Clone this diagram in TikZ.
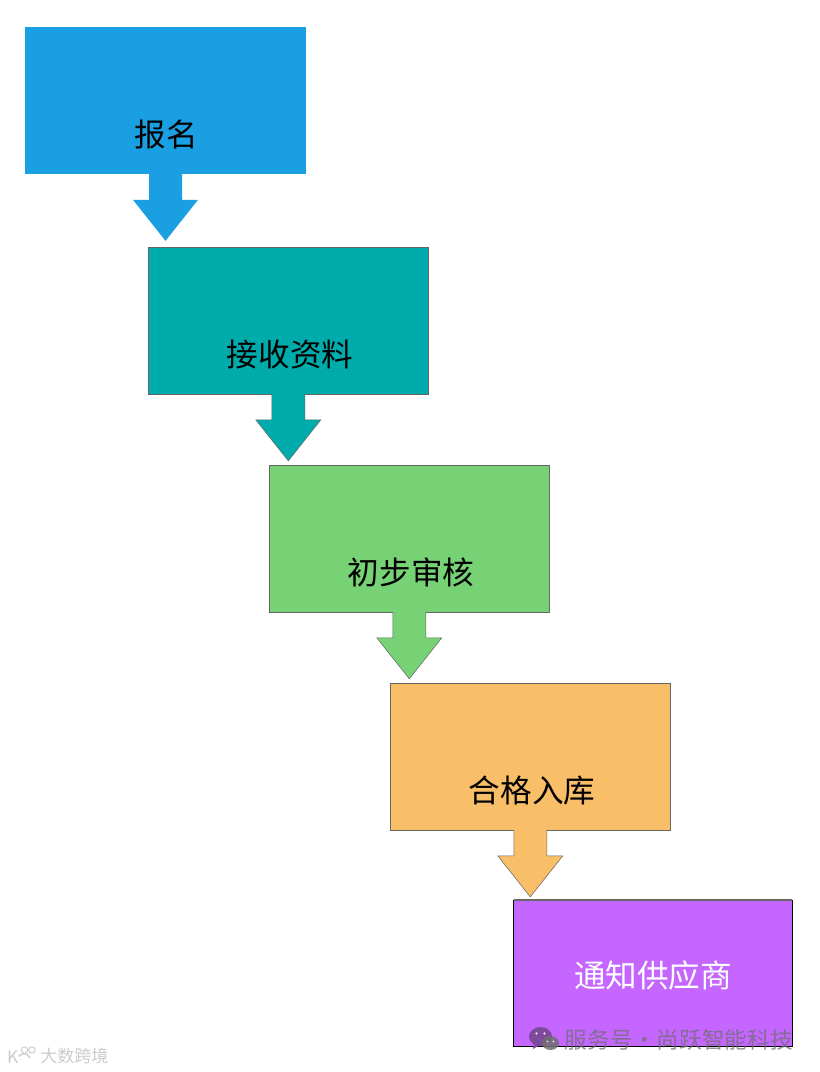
\documentclass[tikz,border=0pt]{standalone}
\usepackage{fontspec}
\setmainfont{Noto Sans CJK SC}
\usetikzlibrary{calc}
\definecolor{cblue}{HTML}{1B9FE3}
\definecolor{cteal}{HTML}{00ABAB}
\definecolor{cgreen}{HTML}{76D275}
\definecolor{corange}{HTML}{F9BE68}
\definecolor{cpurple}{HTML}{C466FF}
\definecolor{wmgray}{HTML}{6F6F6F}
\definecolor{wmpurple}{HTML}{7D4A9C}
\tikzset{
  x=0.75pt,y=-0.75pt,
  box/.style={draw=black!60,line width=0.4pt,minimum width=210.4pt,minimum height=110pt,inner sep=0pt,outer sep=0pt},
  lbl/.style={font=\fontsize{23.7}{26}\selectfont,text=black,inner sep=0pt},
  arrowline/.style={draw=black!60,line width=0.4pt,line join=miter}
}
% block arrow hanging from the bottom of a box: fill it, then stroke all sides but the top
\newcommand{\darrow}[3]{%
  \fill[#2] ($(#1.south)+(-16.5,0)$) -- ++(0,26) -- ++(-16,0) -- ($(#1.south)+(0,67)$) -- ++(32.5,-41) -- ++(-16,0) -- ($(#1.south)+(16.5,0)$) -- cycle;
  \path[#3] ($(#1.south)+(-16.5,0)$) -- ++(0,26) -- ++(-16,0) -- ($(#1.south)+(0,67)$) -- ++(32.5,-41) -- ++(-16,0) -- ($(#1.south)+(16.5,0)$);}
\begin{document}
\begin{tikzpicture}
\useasboundingbox (0,0) rectangle (819,1072);
\fill[white] (0,0) rectangle (819,1072);
\node[box,fill=cblue,draw=none] (b1) at (165.5,100.5) {};
\node[box,fill=cteal] (b2) at (288.3,320.5) {};
\node[box,fill=cgreen] (b3) at (409.3,538.5) {};
\node[box,fill=corange] (b4) at (530.3,756.5) {};
\node[draw=black,line width=0.8pt,fill=cpurple,minimum width=209.2pt,minimum height=109pt,inner sep=0pt,outer sep=0pt] (b5) at (653,973.5) {};
\draw[black!60,line width=1.2pt] ($(b5.north west)+(0,-0.6)$) -- ($(b5.north east)+(0,-0.6)$);
\darrow{b1}{cblue}{draw=none}
\darrow{b2}{cteal}{arrowline}
\darrow{b3}{cgreen}{arrowline}
\darrow{b4}{corange}{arrowline}
\node[lbl] (t1) at (166,134.5) {报名};
\node[lbl] (t2) at (290,354.5) {接收资料};
\node[lbl] (t3) at (411,572.5) {初步审核};
\node[lbl] (t4) at (532,790.5) {合格入库};
\node[lbl,text=white] (t5) at (653,975) {通知供应商};
% watermark, lower right
\node[font=\fontsize{17}{20}\selectfont,text=wmgray,text opacity=0.75,inner sep=0pt,anchor=east] (wm1) at (793,1040) {\spaceskip=0.5pt 服务号 · 尚跃智能科技};
\fill[wmpurple] (540.5,1036.5) ellipse (11.5 and 9.5);
\fill[wmpurple] (534,1043) -- (533,1049) -- (540,1045) -- cycle;
\fill[wmgray,opacity=0.85] (550.5,1043) ellipse (8.5 and 7);
\fill[white,opacity=0.7] (536.5,1033.5) circle (1.4) (544.5,1033.5) circle (1.4) (547.5,1041.5) circle (1.1) (553.5,1041.5) circle (1.1);
% watermark, lower left
\node[font=\fontsize{12.8}{14}\selectfont,text=black!20,inner sep=0pt,anchor=west] (wm2) at (40,1056) {大数跨境};
\node[font=\fontsize{13}{14}\selectfont,text=black!20,inner sep=0pt] (wm3) at (13.5,1057) {K};
\draw[black!20,line width=0.7pt] (24.5,1050) circle (3.2) (32,1050) circle (3.2);
\draw[black!20,line width=1pt] (30,1058) arc (-10:-150:6 and 5);
\end{tikzpicture}
\end{document}
